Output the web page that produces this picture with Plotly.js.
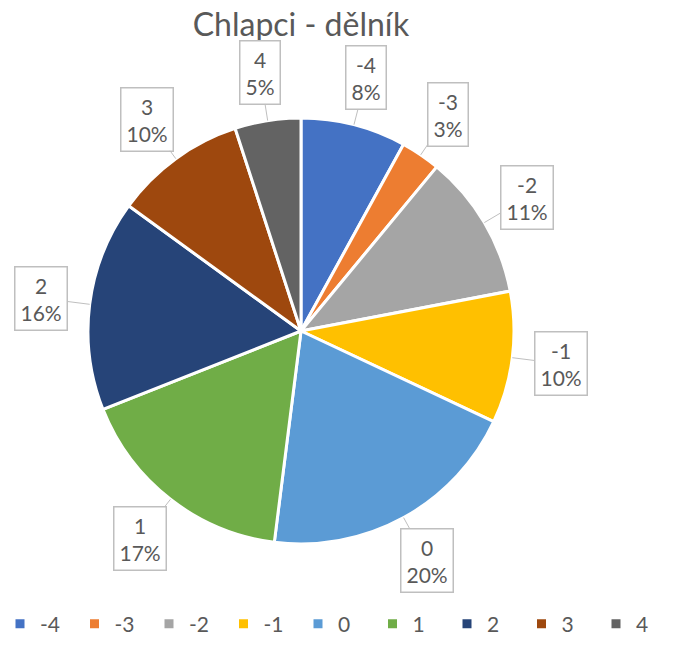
<!DOCTYPE html>
<html>
<head>
<meta charset="utf-8">
<script src="https://cdn.plot.ly/plotly-3.0.1.min.js"></script>
<style>
  body { margin: 0; background: #fff; }
  #graph { width: 679px; height: 646px; }
</style>
</head>
<body>
<div id="graph"></div>
<script>
// categories and shares (%)
const categories = ['-4', '-3', '-2', '-1', '0', '1', '2', '3', '4'];
const shares = [8, 3, 11, 10, 20, 17, 16, 10, 5];
const colors = ['#4472C4', '#ED7D31', '#A5A5A5', '#FFC000', '#5B9BD5',
                '#70AD47', '#264478', '#9E480E', '#636363'];

const W = 679, H = 646;
const margin = { l: 0, r: 0, t: 118, b: 102 };
const plotH = H - margin.t - margin.b;   // pie diameter
const radius = plotH / 2;
const cx = 301;                          // pie centre, px from left

// callout labels placed at the middle angle of each slice
const total = shares.reduce((a, b) => a + b, 0);
let cum = 0;
const annotations = categories.map((c, i) => {
    const mid = (cum + shares[i] / 2) / total * 2 * Math.PI;
    cum += shares[i];
    const sx = Math.sin(mid), sy = -Math.cos(mid);
    const off = radius * 0.23;
    return {
        xref: 'paper', yref: 'paper',
        x: (cx + sx * radius) / W,
        y: 0.5 - sy * radius / plotH,
        ax: sx * off, ay: sy * off,
        text: c + '<br>' + Math.round(shares[i] / total * 100) + '%',
        showarrow: true, arrowhead: 0, arrowwidth: 1, arrowcolor: '#BFBFBF',
        font: { family: 'Lato, sans-serif', size: 21, color: '#595959' },
        bgcolor: '#FFFFFF', bordercolor: '#BFBFBF', borderwidth: 1.5, borderpad: 5
    };
});

const trace = {
    type: 'pie',
    labels: categories,
    values: shares,
    sort: false,
    direction: 'clockwise',
    rotation: 0,
    textinfo: 'none',
    hoverinfo: 'label+percent',
    marker: { colors: colors, line: { color: '#FFFFFF', width: 3 } },
    domain: { x: [(cx - radius) / W, (cx + radius) / W], y: [0, 1] }
};

const layout = {
    width: W, height: H,
    margin: margin,
    paper_bgcolor: '#FFFFFF',
    title: {
        text: 'Chlapci - dělník',
        font: { family: 'Lato, sans-serif', size: 32, color: '#595959' },
        x: cx / W, xanchor: 'center',
        y: 1 - 25 / H, yref: 'container', yanchor: 'middle'
    },
    showlegend: true,
    legend: {
        orientation: 'h',
        x: 0, xanchor: 'left',
        y: -0.14, yanchor: 'top',
        font: { family: 'Lato, sans-serif', size: 21, color: '#595959' },
        entrywidth: 29.5,
        itemwidth: 30,
        traceorder: 'normal'
    },
    annotations: annotations
};

Plotly.newPlot('graph', [trace], layout, { displayModeBar: false });
</script>
</body>
</html>
